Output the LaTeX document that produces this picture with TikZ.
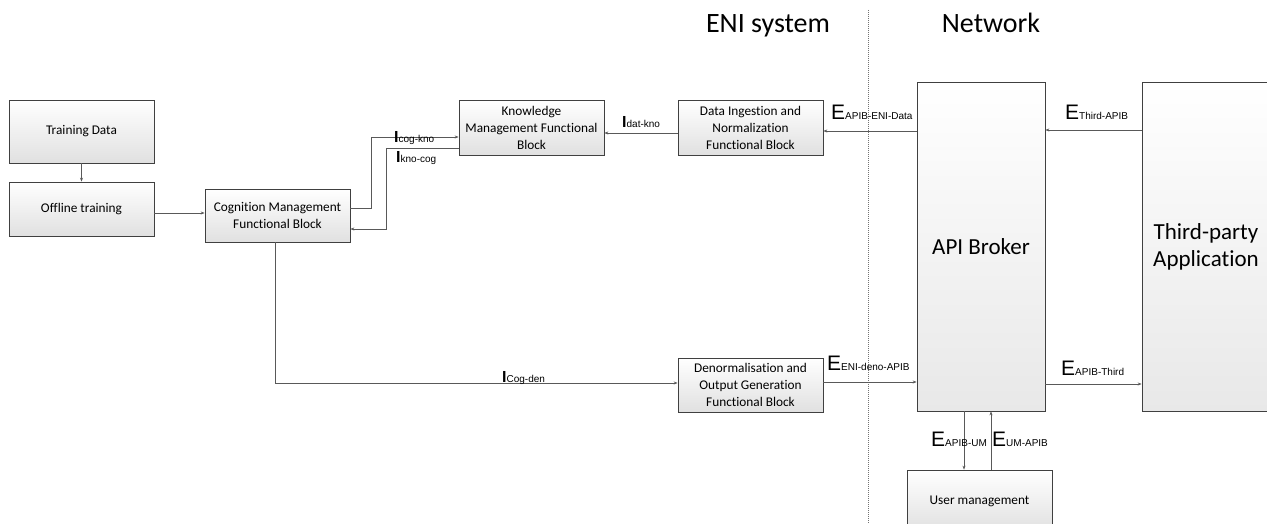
\documentclass[tikz,border=0pt]{standalone}
\usepackage{fontspec}
\setmainfont{Carlito}[Ligatures=NoCommon]
\newfontfamily\lblfont{Liberation Sans}
\usetikzlibrary{arrows.meta}
\definecolor{edge}{HTML}{595959}
\definecolor{bord}{HTML}{404040}
\tikzset{
  box/.style={draw=bord, line width=0.7pt, top color=white, bottom color=black!12,
    align=center, font=\fontsize{13.3}{17}\selectfont, inner sep=1pt},
  big/.style={draw=bord, line width=0.7pt, top color=white, bottom color=black!9,
    align=center, font=\fontsize{23}{27}\selectfont},
  arr/.style={draw=edge, line width=0.8pt, -{Stealth[length=4pt,width=3pt]}},
  lab/.style={anchor=base west, inner sep=0pt, font=\lblfont},
}
\newcommand{\lblE}[1]{{\fontsize{21}{21}\selectfont E}{\fontsize{10}{10}\selectfont #1}}
\newcommand{\lblI}[1]{{\fontsize{16}{16}\selectfont\bfseries I}{\fontsize{10}{10}\selectfont #1}}
\begin{document}
\begin{tikzpicture}[x=1pt,y=-1pt]
\useasboundingbox (0,0) rectangle (1267,524);
% divider
\draw[black!55, line width=0.8pt, dash pattern=on 1pt off 1pt] (868,10) -- (868,524);
\node[anchor=base, font=\fontsize{28}{28}\selectfont, inner sep=0pt] (eni) at (768,33) {ENI system};
\node[anchor=base, font=\fontsize{28}{28}\selectfont, inner sep=0pt] (net) at (991,33) {Network};
% boxes
\node[box, minimum width=145pt, minimum height=63pt] (td) at (81.5,131.5) {Training Data};
\node[box, minimum width=145pt, minimum height=54pt] (off) at (81.5,209) {Offline training};
\node[box, minimum width=145pt, minimum height=53pt] (cog) at (277.5,215.5) {Cognition Management\\Functional Block};
\node[box, minimum width=145pt, minimum height=55pt] (kno) at (531.5,127.5) {Knowledge\\Management Functional\\Block};
\node[box, minimum width=145pt, minimum height=55pt] (dat) at (750.5,127.5) {Data Ingestion and\\Normalization\\Functional Block};
\node[box, minimum width=145pt, minimum height=54pt] (den) at (750.5,385) {Denormalisation and\\Output Generation\\Functional Block};
\node[big, minimum width=128pt, minimum height=329pt] (api) at (981,246.5) {API Broker};
\node[big, minimum width=128pt, minimum height=329pt] (tp) at (1206,246.5) {Third-party\\Application};
\node[box, minimum width=145pt, minimum height=62pt] (um) at (979.5,501) {User management};
% connectors
\draw[arr] (td) -- (off);
\draw[arr] (off.east |- 0,213) -- (cog.west |- 0,213);
\draw[arr] (cog.east |- 0,208) -- (371,208) -- (371,137) -- (kno.west |- 0,137);
\draw[arr] (kno.west |- 0,148) -- (386,148) -- (386,229) -- (cog.east |- 0,229);
\draw[arr] (dat.west |- 0,133) -- (kno.east |- 0,133);
\draw[arr] (api.west |- 0,131) -- (dat.east |- 0,131);
\draw[arr] (tp.west |- 0,130) -- (api.east |- 0,130);
\draw[arr] (cog.south -| 275,0) -- (275,383) -- (den.west |- 0,383);
\draw[arr] (den.east |- 0,382) -- (api.west |- 0,382);
\draw[arr] (api.east |- 0,384) -- (tp.west |- 0,384);
\draw[arr] (api.south -| 964,0) -- (um.north -| 964,0);
\draw[arr] (um.north -| 991,0) -- (api.south -| 991,0);
% labels
\node[lab] (l1) at (394,143) {\lblI{cog-kno}};
\node[lab] (l2) at (396,163) {\lblI{kno-cog}};
\node[lab] (l3) at (622,128) {\lblI{dat-kno}};
\node[lab] (l4) at (831,120) {\lblE{APIB-ENI-Data}};
\node[lab] (l5) at (1065,120) {\lblE{Third-APIB}};
\node[lab] (l6) at (502,382) {\lblI{Cog-den}};
\node[lab] (l7) at (827,370) {\lblE{ENI-deno-APIB}};
\node[lab] (l8) at (1061,375) {\lblE{APIB-Third}};
\node[lab] (l9) at (931,446) {\lblE{APIB-UM}};
\node[lab] (l10) at (992,446) {\lblE{UM-APIB}};
\end{tikzpicture}
\end{document}
